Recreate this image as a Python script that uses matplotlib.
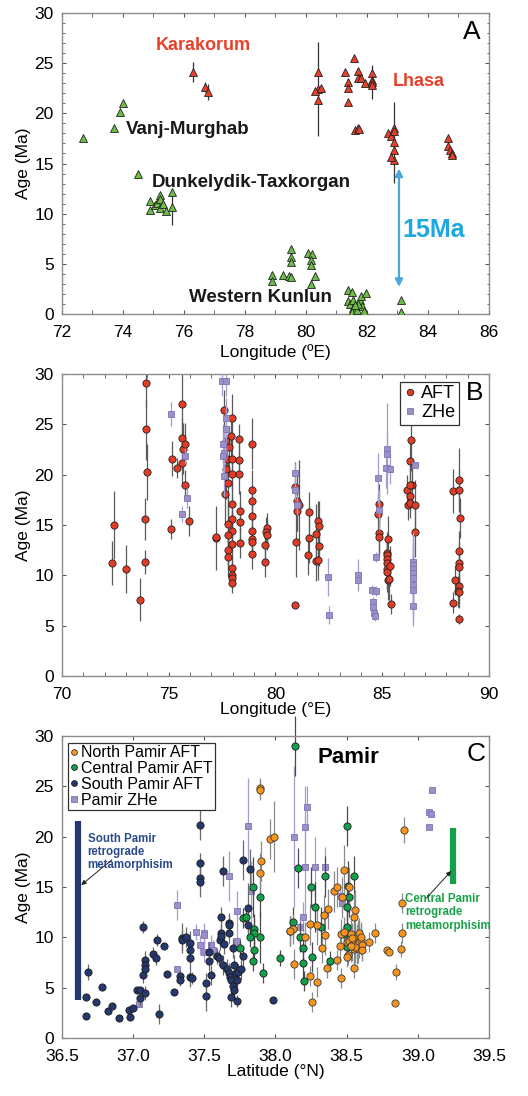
import matplotlib
matplotlib.use("Agg")
import matplotlib.pyplot as plt
from matplotlib.ticker import MultipleLocator, FormatStrFormatter

plt.rcParams['font.family'] = ['Liberation Sans', 'DejaVu Sans']

# ---------------- panel A: (lon, age, err) ----------------
a_lhasa = [(76.3, 24.1, 1.0), (76.7, 22.6, 0.5), (76.8, 22.1, 0.8),
           (80.4, 24.1, 0), (80.4, 22.4, 4.7), (80.3, 22.2, 0), (80.5, 22.5, 0), (80.4, 21.3, 0),
           (81.28, 24.1, 0), (81.38, 23.1, 0), (81.38, 22.5, 0), (81.38, 21.1, 0),
           (81.58, 25.5, 0), (81.69, 24.2, 0), (81.69, 23.5, 0), (81.82, 23.5, 0), (81.92, 23.0, 0),
           (81.6, 18.3, 0), (81.7, 18.5, 0), (81.75, 18.4, 0),
           (82.18, 24.0, 0), (82.18, 23.3, 0), (82.18, 23.1, 1.7), (82.18, 22.8, 0),
           (82.68, 18.0, 0), (82.8, 17.7, 0), (82.9, 18.5, 0), (82.9, 18.2, 0), (82.9, 17.1, 4.0),
           (82.9, 16.3, 0), (82.9, 15.4, 0), (82.78, 15.7, 0),
           (84.67, 17.5, 0), (84.67, 16.7, 0), (84.72, 16.3, 0), (84.8, 16.0, 0), (84.8, 15.8, 0)]
a_pamir = [(72.7, 17.5, 0), (73.7, 18.5, 0), (73.9, 20.1, 0), (74.0, 21.0, 0), (74.5, 14.0, 0),
           (74.9, 11.3, 0), (74.9, 10.4, 0), (75.05, 10.9, 0), (75.1, 11.1, 0), (75.2, 11.9, 0),
           (75.2, 11.5, 0), (75.2, 10.6, 0), (75.3, 11.0, 0), (75.4, 10.3, 0), (75.6, 12.2, 0),
           (75.6, 10.7, 1.8),
           (78.9, 3.9, 0), (78.9, 3.25, 0), (79.25, 3.9, 0), (79.45, 3.75, 0), (79.5, 3.7, 0),
           (79.5, 6.5, 0), (79.5, 5.7, 0), (79.5, 5.2, 0), (80.07, 6.1, 0), (80.2, 6.0, 0),
           (80.18, 5.4, 0), (80.18, 4.9, 0), (80.3, 3.75, 0), (80.18, 3.0, 0),
           (81.38, 2.4, 0), (81.5, 2.15, 0), (81.38, 1.3, 0), (81.45, 1.0, 0), (81.55, 0.6, 0),
           (81.5, 0.2, 0), (81.66, 0.4, 0), (81.77, 1.4, 0), (81.8, 1.75, 0), (81.85, 0.8, 0),
           (81.9, 0.25, 0), (81.98, 2.1, 0), (81.7, 1.0, 0), (81.55, 1.4, 0), (81.6, 0.9, 0),
           (83.1, 1.4, 0), (83.1, 0.15, 0)]
a_labels = [("Karakorum", 76.63, 26.8, '#e8412b', 'center'),
            ("Lhasa", 83.7, 23.2, '#e8412b', 'center'),
            ("Vanj-Murghab", 74.09, 18.4, '#1a1a1a', 'left'),
            ("Dunkelydik-Taxkorgan", 74.93, 13.1, '#1a1a1a', 'left'),
            ("Western Kunlun", 76.16, 1.65, '#1a1a1a', 'left')]
a_span = (83.05, 2.7, 14.5)

# ---------------- panel B: (lon, age, err) ----------------
b_aft = [(72.42, 15.0, 3.4), (72.36, 11.2, 2.2), (73.02, 10.6, 2.4), (73.67, 7.6, 2.1),
         (73.92, 29.1, 2.5), (73.92, 24.5, 3.0), (74.0, 20.3, 2.8), (73.88, 15.6, 2.1), (73.88, 11.3, 1.2),
         (75.1, 14.6, 1.0), (75.16, 21.6, 1.7), (75.41, 20.7, 1.0), (75.6, 27.0, 3.5), (75.63, 23.6, 2.0),
         (75.63, 21.2, 2.0), (75.66, 22.6, 2.5), (75.75, 23.1, 2.0), (75.78, 19.0, 1.5), (75.94, 15.4, 1.5),
         (77.2, 13.7, 3.2), (77.22, 13.8, 0),
         (77.6, 26.4, 2), (77.94, 25.6, 2.4), (77.9, 23.8, 2), (77.66, 23.3, 1.5), (77.8, 22.8, 2),
         (77.75, 21.6, 2), (77.94, 21.6, 2.5), (77.7, 20.6, 3), (77.94, 20.1, 2), (77.78, 19.2, 2.5),
         (77.63, 18.1, 3), (77.94, 17.1, 2), (77.94, 15.6, 2.5), (77.78, 15.1, 3), (77.94, 14.4, 2),
         (77.78, 14.0, 3), (77.94, 13.1, 2), (77.78, 12.5, 2), (77.78, 11.8, 2), (77.94, 10.7, 1),
         (77.94, 10.0, 1), (77.94, 9.7, 1), (77.94, 9.2, 1),
         (78.3, 23.5, 1.5), (78.3, 21.5, 2), (78.3, 20.1, 2), (78.33, 16.4, 2), (78.33, 15.3, 2),
         (78.36, 13.2, 1.5),
         (78.9, 23.1, 2.5), (78.9, 18.5, 2), (78.9, 17.4, 1.5), (78.9, 15.9, 1.5), (78.9, 14.4, 1.5),
         (78.9, 13.6, 1.5), (78.9, 13.35, 1.5), (78.9, 12.1, 1.5),
         (79.6, 14.7, 1.5), (79.55, 14.3, 1.5), (79.6, 14.0, 1.5), (79.52, 13.0, 2), (79.52, 11.3, 1.5),
         (80.9, 18.8, 2.5), (81.0, 17.4, 3), (81.0, 16.4, 2), (80.95, 13.3, 3.5), (81.12, 17.0, 4.5),
         (80.9, 7.06, 0),
         (81.56, 16.3, 2), (81.56, 13.7, 2.5), (81.54, 12.0, 2), (82.0, 15.4, 2), (82.05, 14.9, 2.5),
         (81.88, 14.1, 3), (82.05, 12.9, 2), (81.88, 11.4, 2), (82.0, 11.5, 2),
         (84.84, 17.1, 2), (84.82, 16.1, 2), (84.85, 14.2, 2), (84.84, 13.8, 2),
         (85.25, 13.6, 2.3), (85.22, 12.27, 2), (85.22, 12.0, 2), (85.22, 11.6, 2), (85.22, 11.27, 2),
         (85.22, 10.64, 2), (85.22, 10.3, 2), (85.35, 10.9, 2), (85.25, 9.55, 2), (85.33, 9.6, 2),
         (85.43, 7.16, 1),
         (86.35, 23.4, 3), (86.3, 21.4, 2), (86.18, 18.5, 1.5), (86.4, 19.0, 2), (86.32, 19.0, 2),
         (86.32, 17.9, 1.5), (86.22, 17.0, 1.5), (86.32, 17.2, 1.5), (86.55, 17.0, 2.5), (86.55, 14.35, 2.5),
         (88.3, 18.4, 2.2), (88.58, 19.5, 3.2), (88.58, 18.5, 2), (88.62, 15.7, 2), (88.58, 12.4, 2),
         (88.58, 11.27, 2), (88.6, 10.8, 2), (88.42, 9.55, 1.5), (88.6, 8.9, 1.5), (88.55, 8.4, 1.5),
         (88.6, 8.3, 1.5), (88.3, 7.3, 1), (88.58, 5.7, 0.5)]
b_zhe = [(75.1, 26.05, 1.2), (75.75, 21.9, 0.8), (75.85, 17.7, 1.0), (75.6, 16.1, 0.8),
         (77.5, 29.3, 1.5), (77.66, 29.35, 1.5), (77.7, 25.6, 2), (77.7, 24.5, 2), (77.56, 23.07, 2),
         (77.6, 22.2, 2), (77.56, 21.9, 2), (77.6, 19.9, 2),
         (80.9, 20.2, 1), (80.9, 18.5, 1), (81.0, 16.95, 1),
         (82.44, 9.85, 1.9), (82.5, 6.03, 0.9), (83.85, 10.0, 1.6), (83.85, 9.5, 1),
         (84.53, 8.5, 0.5), (84.69, 8.45, 0.5), (84.55, 7.35, 0.5), (84.57, 6.9, 0.5), (84.62, 6.25, 0.5),
         (84.65, 6.0, 0.5), (84.73, 11.8, 0.5), (84.78, 19.65, 2.5), (84.84, 16.5, 2),
         (85.23, 22.6, 4.5), (85.23, 22.1, 2), (85.18, 20.7, 2), (85.35, 20.55, 1.5),
         (86.53, 21.0, 0), (86.45, 11.35, 3), (86.45, 11.0, 3), (86.45, 10.6, 3), (86.45, 10.2, 3),
         (86.45, 9.7, 3), (86.45, 9.05, 3), (86.45, 8.5, 3), (86.45, 7.0, 2)]

# ---------------- panel C: (lat, age, err) ----------------
c_south = [(36.67, 2.15, 0), (36.67, 4.07, 0), (36.68, 6.56, 0.8), (36.74, 3.54, 0), (36.78, 5.07, 0),
           (36.82, 2.65, 0), (36.85, 3.15, 0), (36.9, 1.95, 0), (36.97, 2.78, 0), (36.98, 2.09, 0),
           (37.0, 2.95, 0), (37.03, 4.77, 0), (37.05, 3.94, 0.8), (37.05, 4.77, 0), (37.07, 6.26, 0.8),
           (37.07, 11.0, 0.6), (37.08, 7.8, 0.8), (37.08, 7.3, 0.8), (37.08, 6.9, 0.8), (37.08, 4.5, 0.7),
           (37.14, 8.38, 0.7), (37.16, 7.98, 0.7), (37.17, 9.7, 0.6), (37.18, 2.38, 1.0), (37.22, 9.17, 0),
           (37.24, 6.39, 0), (37.29, 4.6, 0), (37.34, 9.93, 1.5), (37.34, 9.77, 1.0), (37.37, 10.0, 1.0),
           (37.33, 6.19, 0.6), (37.33, 5.8, 0.6), (37.4, 9.44, 1.2), (37.4, 8.7, 1.2), (37.4, 8.0, 1.0),
           (37.4, 6.1, 1.0), (37.41, 5.99, 0.6), (37.47, 21.2, 1.5), (37.47, 17.4, 1.0), (37.47, 15.9, 1.0),
           (37.47, 15.5, 1.5), (37.51, 5.46, 1.0), (37.51, 4.2, 1.5), (37.53, 7.7, 1.0), (37.53, 8.54, 1.0),
           (37.55, 6.26, 1.0), (37.59, 8.18, 0.8), (37.6, 7.98, 0.8), (37.61, 9.77, 1.0), (37.62, 12.05, 1.0),
           (37.63, 16.6, 1.5), (37.62, 10.4, 1.0), (37.62, 10.1, 1.0), (37.63, 7.28, 1.0), (37.64, 9.37, 1.0),
           (37.67, 11.4, 1.0), (37.675, 11.2, 1.0), (37.67, 10.4, 1.0), (37.66, 6.85, 1.0), (37.67, 6.46, 1.0),
           (37.68, 6.1, 1.0), (37.69, 5.8, 1.0), (37.7, 5.13, 1.0), (37.71, 4.74, 1.0), (37.69, 4.04, 1.0),
           (37.73, 3.7, 0.6), (37.7, 8.94, 1.0), (37.72, 6.46, 1.0), (37.73, 5.8, 1.0), (37.71, 7.28, 1.0),
           (37.74, 6.56, 0.8), (37.77, 17.7, 2.0), (37.81, 12.9, 2.5), (37.81, 11.2, 1.5), (37.82, 16.8, 2.0),
           (37.76, 6.85, 1.0), (37.77, 8.18, 1.0), (37.98, 3.74, 0)]
c_central = [(38.14, 29.0, 3.0), (37.75, 8.97, 0.8), (37.77, 11.95, 1.0), (37.79, 12.0, 1.0),
             (37.84, 15.0, 3.0), (37.85, 10.86, 1.5), (37.85, 10.4, 1.5), (37.82, 10.0, 1.0), (37.85, 8.7, 1.0),
             (37.84, 7.7, 1.0), (37.89, 14.0, 2.0), (37.89, 10.0, 2.5), (37.91, 6.5, 1.0), (38.03, 7.98, 0.8),
             (38.12, 11.5, 1.5), (38.1, 10.6, 1.5), (38.17, 10.07, 1.5), (38.16, 16.9, 2.0), (38.19, 8.9, 1.5),
             (38.19, 7.45, 1.5), (38.2, 5.66, 1.0), (38.25, 15.0, 2.0), (38.28, 13.0, 2.5), (38.26, 8.08, 1.5),
             (38.32, 11.0, 2.0), (38.35, 16.06, 2.0), (38.38, 7.68, 1.0), (38.5, 21.06, 2.0), (38.51, 15.07, 2.5),
             (38.52, 14.0, 2.0), (38.5, 13.0, 2.0), (38.5, 11.03, 2.0), (38.55, 16.06, 2.0), (38.5, 9.0, 1.0),
             (38.48, 10.3, 1.0)]
c_north = [(37.89, 24.8, 1.0), (37.89, 24.6, 1.0), (37.96, 19.8, 2.0), (37.99, 20.0, 3.5), (37.9, 17.6, 2.0),
           (37.89, 16.4, 2.0), (38.12, 10.83, 1.5), (38.1, 10.6, 1.5), (38.13, 7.38, 1.5), (38.21, 10.07, 1.5),
           (38.24, 11.29, 2.0), (38.24, 6.16, 1.0), (38.26, 3.58, 1.0), (38.29, 5.56, 1.5), (38.29, 11.2, 2.0),
           (38.33, 8.94, 1.5), (38.34, 12.19, 2.0), (38.35, 10.27, 2.0), (38.37, 12.8, 2.0), (38.36, 6.95, 1.0),
           (38.41, 14.57, 2.0), (38.43, 15.0, 2.0), (38.43, 7.78, 1.0), (38.45, 9.17, 1.5), (38.46, 5.96, 1.0),
           (38.47, 13.97, 2.0), (38.48, 16.66, 2.5), (38.46, 10.33, 1.5), (38.48, 10.5, 1.5), (38.52, 15.0, 2.0),
           (38.55, 12.0, 2.5), (38.56, 12.7, 2.0), (38.55, 6.95, 1.0), (38.51, 8.28, 1.0), (38.5, 8.05, 1.0),
           (38.5, 9.5, 1.5), (38.52, 9.6, 1.5), (38.54, 9.2, 1.5), (38.55, 10.0, 1.5), (38.56, 9.4, 1.5),
           (38.57, 9.8, 1.5), (38.58, 9.0, 1.5), (38.58, 10.2, 1.5), (38.59, 9.5, 1.5), (38.6, 9.7, 1.5),
           (38.55, 8.8, 1.5), (38.53, 10.3, 1.5), (38.57, 8.9, 1.5), (38.61, 9.2, 1.5), (38.59, 10.4, 1.5),
           (38.56, 9.0, 1.5), (38.54, 9.9, 1.5), (38.6, 10.0, 1.5), (38.53, 9.1, 1.5), (38.61, 8.77, 1.0),
           (38.66, 9.5, 1.0), (38.7, 10.4, 1.0), (38.78, 8.7, 0), (38.8, 8.54, 0), (38.85, 6.56, 0.8),
           (38.84, 3.44, 0), (38.88, 8.84, 0.8), (38.89, 10.4, 1.0), (38.89, 13.41, 1.0), (38.9, 20.7, 1.3)]
c_zhe = [(37.31, 13.2, 1.5), (37.31, 6.85, 0), (37.04, 3.38, 0), (37.44, 10.5, 0.8), (37.47, 9.24, 1.0),
         (37.5, 10.4, 1.0), (37.5, 10.2, 1.0), (37.5, 8.54, 1.0), (37.55, 9.2, 1.0), (37.56, 8.77, 1.0),
         (37.67, 16.1, 2.5), (37.73, 12.58, 2.0), (37.73, 9.67, 1.0), (37.81, 21.1, 4.7), (37.83, 14.57, 3.0),
         (38.13, 20.0, 7.0), (38.17, 11.03, 1.0), (38.19, 12.0, 1.5), (38.21, 21.0, 4.0), (38.22, 23.0, 2.0),
         (38.21, 17.0, 5.0), (38.28, 17.0, 3.0), (38.35, 17.0, 2.0), (38.45, 14.07, 1.0), (38.47, 13.4, 1.0),
         (39.08, 21.0, 0), (39.08, 22.45, 0), (39.09, 22.25, 0), (39.1, 24.6, 0)]
c_south_bar = (36.61, 3.8, 21.6)
c_central_bar = (39.25, 15.3, 20.9)

EDGE = '#8c8c8c'
ZHE_FACE = '#9c90c8'
ZHE_EDGE = '#7f73b5'


def draw(ax, data, marker, face, edge, ecolor, ms, z, clip=True):
    x = [d[0] for d in data]
    y = [d[1] for d in data]
    e = [d[2] for d in data]
    eb = ax.errorbar(x, y, yerr=e, fmt='none', ecolor=ecolor, elinewidth=0.9, capsize=0, zorder=z - 0.5)
    for c in eb[2]:
        c.set_clip_on(clip)
    ln, = ax.plot(x, y, linestyle='none', marker=marker, ms=ms, mfc=face, mec=edge, mew=0.6, zorder=z)
    return ln


def style(ax):
    for s in ax.spines.values():
        s.set_color(EDGE)
        s.set_linewidth(1.0)
    ax.tick_params(which='both', direction='in', top=True, right=True, color='#555555', labelsize=12.5)
    ax.tick_params(axis='x', which='both', pad=8, length=3)
    ax.tick_params(axis='y', which='major', pad=6, length=3)
    ax.tick_params(axis='y', which='minor', length=1.8)
    ax.set_ylim(0, 30)
    ax.yaxis.set_major_locator(MultipleLocator(5))
    ax.set_ylabel('Age (Ma)', fontsize=12.5, labelpad=2)


fig = plt.figure(figsize=(5.28, 10.96), dpi=100)

# ---- A ----
axA = fig.add_axes([0.1174, 0.7135, 0.8087, 0.2746])
style(axA)
axA.set_xlim(72, 86)
axA.xaxis.set_major_locator(MultipleLocator(2))
axA.xaxis.set_minor_locator(MultipleLocator(1))
axA.yaxis.set_minor_locator(MultipleLocator(1))
draw(axA, a_pamir, '^', '#6cbd45', '#222222', '#333333', 6, 3)
draw(axA, a_lhasa, '^', '#e8412b', '#222222', '#333333', 6, 3)
for txt, x, y, col, ha in a_labels:
    axA.text(x, y, txt, color=col, fontsize=13.5 if col != '#e8412b' else 13, fontweight='bold',
             ha=ha, va='center')
axA.annotate('', xy=(a_span[0], a_span[1]), xytext=(a_span[0], a_span[2]),
             arrowprops=dict(arrowstyle='<|-|>', color='#49a9d8', lw=1.6, mutation_scale=11,
                             shrinkA=0, shrinkB=0))
axA.text(84.2, 8.4, '15Ma', color='#1ea8e0', fontsize=18, fontweight='bold', ha='center', va='center')
axA.text(85.43, 28.1, 'A', fontsize=19, ha='center', va='center')
axA.set_xlabel('Longitude (ºE)', fontsize=12.5, labelpad=3)

# ---- B ----
axB = fig.add_axes([0.1174, 0.3832, 0.8087, 0.2755])
style(axB)
axB.set_xlim(70, 90)
axB.xaxis.set_major_locator(MultipleLocator(5))
axB.xaxis.set_minor_locator(MultipleLocator(1))
hb1 = draw(axB, b_aft, 'o', '#e23b26', '#222222', '#5a5a5a', 5.2, 3)
hb2 = draw(axB, b_zhe, 's', ZHE_FACE, ZHE_EDGE, '#a79ccf', 5.0, 4)
legB = axB.legend([hb1, hb2], ['AFT', 'ZHe'], loc='upper right', bbox_to_anchor=(0.93, 0.975),
                  fontsize=13, handlelength=0.7, handletextpad=0.3, borderpad=0.2, labelspacing=0.1,
                  fancybox=False, edgecolor='#333333', framealpha=1, markerscale=0.9, borderaxespad=0)
legB.get_frame().set_linewidth(0.9)
axB.text(89.35, 28.1, 'B', fontsize=19, ha='center', va='center')
axB.set_xlabel('Longitude (°E)', fontsize=12.5, labelpad=0)

# ---- C ----
axC = fig.add_axes([0.1174, 0.0529, 0.8087, 0.2755])
style(axC)
axC.set_xlim(36.5, 39.5)
axC.xaxis.set_major_locator(MultipleLocator(0.5))
axC.xaxis.set_major_formatter(FormatStrFormatter('%.1f'))
hc4 = draw(axC, c_zhe, 's', ZHE_FACE, ZHE_EDGE, '#a79ccf', 5.0, 2)
hc3 = draw(axC, c_south, 'o', '#25396e', '#1a1a1a', '#6a6a6a', 5.2, 3)
hc2 = draw(axC, c_central, 'o', '#13a04b', '#1a1a1a', '#4a4a4a', 5.2, 3, clip=False)
hc1 = draw(axC, c_north, 'o', '#f7941d', '#3a3a3a', '#8a8a8a', 5.2, 3)
legC = axC.legend([hc1, hc2, hc3, hc4],
                  ['North Pamir AFT', 'Central Pamir AFT', 'South Pamir AFT', 'Pamir ZHe'],
                  loc='upper left', bbox_to_anchor=(0.014, 0.978), fontsize=11.5, handlelength=0.5,
                  handletextpad=0.15, borderpad=0.15, labelspacing=0.05, fancybox=False,
                  edgecolor='#333333', framealpha=1, markerscale=0.8, borderaxespad=0)
legC.get_frame().set_linewidth(0.9)
axC.vlines(c_south_bar[0], c_south_bar[1], c_south_bar[2], color='#25396e', lw=4.5, zorder=2)
axC.vlines(c_central_bar[0], c_central_bar[1], c_central_bar[2], color='#13a04b', lw=4.5, zorder=2)
axC.text(36.68, 20.4, 'South Pamir\nretrograde\nmetamorphisim', color='#2b4a8a', fontsize=8.3,
         fontweight='bold', ha='left', va='top', linespacing=1.15)
axC.annotate('', xy=(36.635, 15.2), xytext=(36.85, 17.7),
             arrowprops=dict(arrowstyle='-|>', color='#222222', lw=0.7, mutation_scale=7,
                             shrinkA=0, shrinkB=0))
axC.text(38.91, 14.4, 'Central Pamir\nretrograde\nmetamorphisim', color='#1aa24b', fontsize=8.3,
         fontweight='bold', ha='left', va='top', linespacing=1.15)
axC.annotate('', xy=(39.235, 16.6), xytext=(39.06, 13.9),
             arrowprops=dict(arrowstyle='-|>', color='#222222', lw=0.7, mutation_scale=7,
                             shrinkA=0, shrinkB=0))
axC.text(38.51, 27.9, 'Pamir', fontsize=16, fontweight='bold', ha='center', va='center')
axC.text(39.41, 28.2, 'C', fontsize=19, ha='center', va='center')
axC.set_xlabel('Latitude (°N)', fontsize=12.5, labelpad=0)

fig.savefig('out.png', dpi=100)
